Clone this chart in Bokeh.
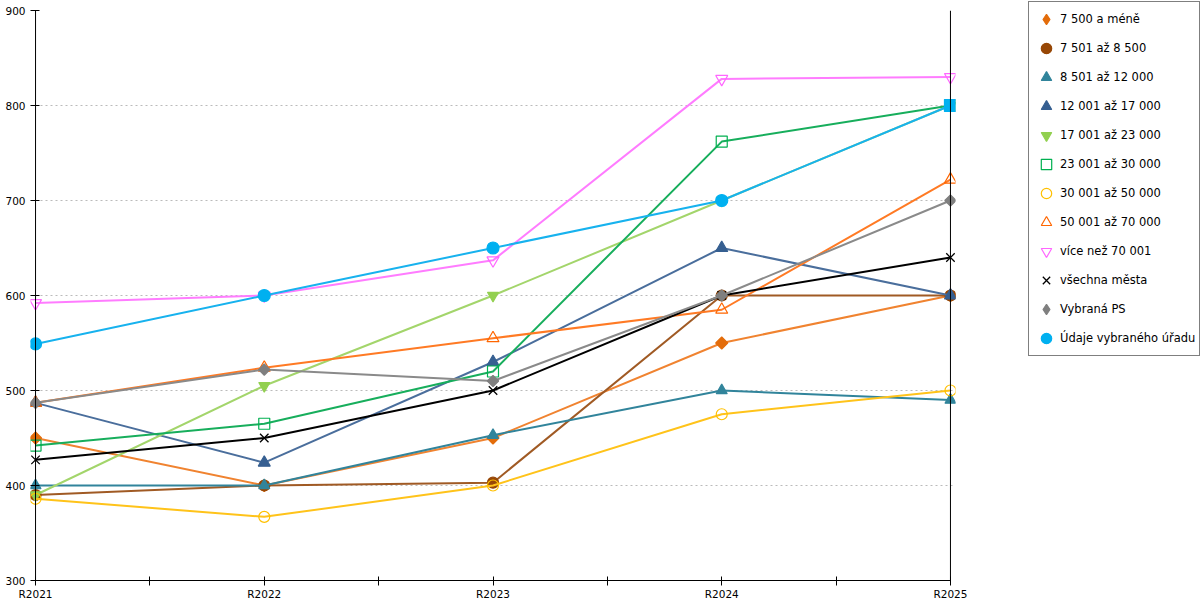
import math
from bokeh.plotting import figure
from bokeh.models import Range1d, FixedTicker, Span, Legend, LegendItem, ColumnDataSource
from bokeh.embed import file_html
from bokeh.resources import INLINE

years = ["R2021", "R2022", "R2023", "R2024", "R2025"]

names = ["7 500 a méně", "7 501 až 8 500", "8 501 až 12 000", "12 001 až 17 000",
         "17 001 až 23 000", "23 001 až 30 000", "30 001 až 50 000", "50 001 až 70 000",
         "více než 70 001", "všechna města", "Vybraná PS", "Údaje vybraného úřadu"]

v_do_7500 = [450, 400, 450, 550, 600]
v_7501_8500 = [390, 400, 403, 600, 600]
v_8501_12000 = [400, 400, 453, 500, 490]
v_12001_17000 = [487, 424, 530, 650, 600]
v_17001_23000 = [390, 505, 600, 700, 800]
v_23001_30000 = [442, 465, 520, 762, 800]
v_30001_50000 = [386, 367, 400, 475, 500]
v_50001_70000 = [487, 524, 555, 585, 722]
v_nad_70001 = [592, 600, 637, 828, 830]
v_vsechna = [427, 450, 500, 600, 640]
v_ps = [487, 522, 510, 600, 700]
v_urad = [549, 600, 650, 700, 800]

y_ticks = [300, 400, 500, 600, 700, 800, 900]

series = [v_do_7500, v_7501_8500, v_8501_12000, v_12001_17000, v_17001_23000,
          v_23001_30000, v_30001_50000, v_50001_70000, v_nad_70001, v_vsechna, v_ps, v_urad]

# style: (line color, marker, marker line color, marker fill color or None, size)
styles = [
    ("#F08330", "rhomb", "#E36C0A", "#E36C0A", 8.5),
    ("#A05A24", "circle", "#974706", "#974706", 11),
    ("#31849B", "triangle", "#31849B", "#31849B", 11),
    ("#4A6E9C", "triangle", "#365F91", "#365F91", 12),
    ("#A3D56B", "inverted_triangle", "#92D050", "#92D050", 11),
    ("#17AE5C", "square", "#00B050", None, 11),
    ("#FFC31A", "circle", "#FFC000", None, 11),
    ("#FF7A24", "triangle", "#FF6600", None, 12),
    ("#FF7CFF", "inverted_triangle", "#FF66FF", None, 12),
    ("#000000", "x", "#000000", "#000000", 12),
    ("#8A8A8A", "rhomb", "#7F7F7F", "#7F7F7F", 8),
    ("#17B2EE", "circle", "#00B0F0", "#00B0F0", 12),
]
urad_markers = ["circle", "circle", "circle", "circle", "square"]

FONT = "DejaVu Sans"
PAD = 0.022

p = figure(frame_width=925, frame_height=570, output_backend="svg", toolbar_location=None,
           x_range=Range1d(-PAD, len(years) - 1 + PAD), y_range=Range1d(300, 900),
           min_border_left=30, min_border_right=245, min_border_top=10, min_border_bottom=0)
p.outline_line_color = None
p.background_fill_color = "white"
p.border_fill_color = "white"

xs = list(range(len(years)))

items = []
for i, (nm, vals, st) in enumerate(zip(names, series, styles)):
    lc, mk, mlc, mfc, sz = st
    data = dict(x=xs, y=vals)
    if i == len(names) - 1:
        data["m"] = urad_markers
    src = ColumnDataSource(data)
    p.line("x", "y", source=src, line_color=lc, line_width=2)
    kw = dict(size=sz, line_color=mlc, line_width=1.2)
    if mfc is None:
        kw["fill_alpha"] = 0
    else:
        kw["fill_color"] = mfc
    if mk == "x":
        kw["line_width"] = 1.3
    if mk == "rhomb":
        kw["angle"] = math.pi / 4
        p.scatter("x", "y", source=src, marker="square", **kw)
        # hidden legend proxy drawn as a diamond
        kw.pop("angle")
        r = p.scatter("x", "y", source=src, marker="diamond", visible=False, **kw)
        items.append(LegendItem(label=nm, renderers=[r], index=0))
        continue
    if "m" in data:
        r = p.scatter("x", "y", source=src, marker="m", **kw)
    else:
        r = p.scatter("x", "y", source=src, marker=mk, **kw)
    items.append(LegendItem(label=nm, renderers=[r], index=0))

# left axis line at the first category, right border at the last one
p.add_layout(Span(location=0, dimension="height", line_color="black", line_width=1))
p.add_layout(Span(location=len(years) - 1, dimension="height", line_color="black", line_width=1))

# axes
p.yaxis.ticker = FixedTicker(ticks=y_ticks)
p.yaxis.minor_tick_line_color = None
p.yaxis.major_tick_in = 9
p.yaxis.major_tick_out = 0
p.yaxis.major_label_standoff = 5
p.yaxis.axis_line_color = None
p.yaxis.major_tick_line_color = "black"
p.yaxis.major_label_text_font = FONT
p.yaxis.major_label_text_font_size = "10.5px"
p.yaxis.major_label_text_color = "black"

xt = [k * 0.5 for k in range(2 * (len(years) - 1) + 1)]
p.xaxis.ticker = FixedTicker(ticks=xt)
overrides = {}
for t in xt:
    overrides[t] = years[int(t)] if float(t).is_integer() else ""
p.xaxis.major_label_overrides = overrides
p.xaxis.bounds = (0, len(years) - 1)
p.xaxis.minor_tick_line_color = None
p.xaxis.major_tick_in = 4
p.xaxis.major_tick_out = 5
p.xaxis.major_label_standoff = 2
p.xaxis.axis_line_color = "black"
p.xaxis.major_tick_line_color = "black"
p.xaxis.major_label_text_font = FONT
p.xaxis.major_label_text_font_size = "10.5px"
p.xaxis.major_label_text_color = "black"

p.xgrid.grid_line_color = None
p.ygrid.grid_line_color = "#BBBBBB"
p.ygrid.grid_line_dash = "2 3"
p.ygrid.grid_line_width = 1

legend = Legend(items=items, location=(73, 224))
legend.label_text_font = FONT
legend.label_text_font_size = "11.5px"
legend.label_text_color = "black"
legend.label_height = 20
legend.glyph_height = 26
legend.glyph_width = 26
legend.spacing = 3
legend.padding = 4
legend.margin = 0
legend.label_standoff = 1
legend.inactive_fill_alpha = 0
legend.border_line_color = "black"
legend.border_line_width = 1
legend.background_fill_color = "white"
legend.background_fill_alpha = 1
p.add_layout(legend, "right")

open("out.html", "w").write(file_html(p, INLINE))
